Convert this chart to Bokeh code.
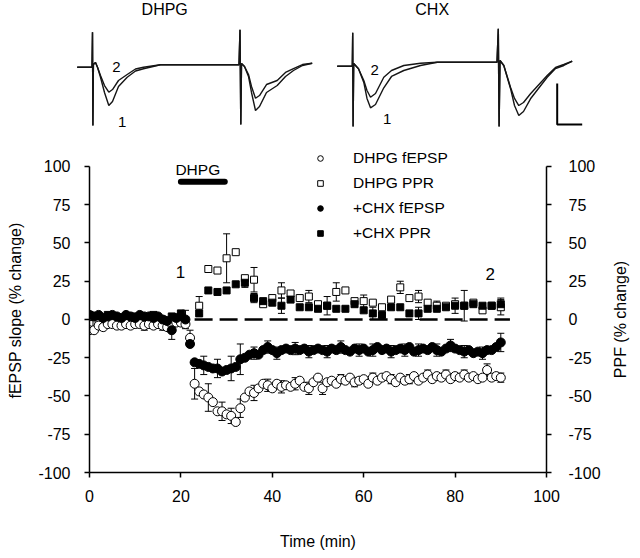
import numpy as np
from bokeh.plotting import figure
from bokeh.models import (Range1d, LinearAxis, Legend, LegendItem, Whisker, Plot,
                          ColumnDataSource, FixedTicker, TeeHead)
from bokeh.layouts import column, row
from bokeh.embed import file_html
from bokeh.resources import INLINE
from bokeh.core.properties import value

FONT = "Liberation Sans"
NAN = float("nan")

# ---------------- main chart data ----------------
time_fepsp = list(range(0, 91))          # min, 1-min sampling
dhpg_fepsp = [
    -7, -7, -4, -5, -3, -3, -4, -4, -3, -4,
    -3, -3, -4, -3, -4, -3, -4, -5, -3, -2,
    -2, -3, -12, -42, -47, -49, -51, -54, -60, -60,
    -62, -63, -67, -58, -51, -47, -48, -45, -42, -43,
    -45, -42, -44, -43, -44, -42, -40, -44, -45, -41,
    -38, -45, -41, -40, -42, -39, -40, -38, -41, -40,
    -39, -42, -38, -40, -38, -37, -39, -41, -38, -40,
    -39, -37, -40, -38, -36, -39, -37, -38, -36, -39,
    -37, -38, -36, -38, -37, -39, -38, -33, -38, -37,
    -38]
dhpg_fepsp_err = [0] * 91
for _t, _e in [(12, 3), (16, 3), (22, 5), (23, 10), (26, 9), (29, 6), (31, 5), (33, 6),
               (36, 5), (39, 4), (42, 4), (45, 4), (48, 4), (51, 4), (55, 3), (58, 3),
               (62, 3), (66, 3), (70, 3), (74, 3), (78, 3), (82, 3), (87, 4), (90, 3)]:
    dhpg_fepsp_err[_t] = _e

chx_fepsp = [
    3, 2, 3, 1, 2, 3, 2, 1, 3, 2,
    1, 3, 2, 2, 1, 2, 0, -1, -7, 1,
    2, 0, -16, -28, -29, -30, -31, -32, -32, -34,
    -33, -32, -31, -26, -25, -23, -22, -23, -20, -18,
    -20, -22, -20, -19, -20, -19, -20, -19, -21, -20,
    -19, -20, -21, -19, -20, -18, -20, -21, -19, -20,
    -19, -21, -20, -18, -20, -19, -21, -20, -19, -20,
    -18, -21, -20, -19, -20, -18, -20, -21, -19, -17,
    -19, -20, -21, -20, -22, -21, -22, -20, -20, -18,
    -15]
chx_fepsp_err = [0] * 91
for _t, _e in [(18, 6), (21, 6), (25, 6), (28, 6), (31, 8), (33, 10), (36, 4), (39, 4),
               (41, 4), (45, 4), (48, 4), (52, 4), (55, 4), (59, 4), (62, 4), (66, 4),
               (69, 4), (72, 4), (76, 4), (79, 4), (82, 4), (86, 4), (90, 6)]:
    chx_fepsp_err[_t] = _e

time_ppr = list(range(0, 91, 2))         # min, 2-min sampling
dhpg_ppr = [
    -3, -2, -1, -3, -2, -3, -2, -3, -2, -1,
    -1, NAN, 9, 33, 32, 40, 44, 27, 26, 10,
    14, 19, 17, 14, 15, 10, 9, 18, 19, 12,
    12, 11, 8, 13, 21, 14, 15, 11, 9, 9,
    10, 9, 11, 6, 9, 8]
dhpg_ppr_err = [0] * 46
for _t, _e in [(24, 6), (30, 16), (36, 8), (42, 5), (48, 4), (54, 6), (60, 4), (68, 4),
               (72, 4), (76, 3), (82, 10), (90, 5)]:
    dhpg_ppr_err[_t // 2] = _e

chx_ppr = [
    3, 2, 3, 1, 2, 2, 1, 3, 0, 2,
    4, NAN, 4, 19, 18, 19, 23, 24, 14, 12,
    11, 9, 13, 8, 8, 7, 9, 7, 7, 10,
    6, 4, 3, 8, 8, 4, 4, 7, 7, 8,
    9, 9, 10, 9, 9, 10]
chx_ppr_err = [0] * 46
for _t, _e in [(34, 3), (36, 3), (42, 5), (52, 6), (62, 4), (72, 4), (80, 5), (90, 4)]:
    chx_ppr_err[_t // 2] = _e

y_ticks = [-100, -75, -50, -25, 0, 25, 50, 75, 100]
x_ticks = [0, 20, 40, 60, 80, 100]
series_labels = ["DHPG fEPSP", "DHPG PPR", "+CHX fEPSP", "+CHX PPR"]
drug_period = [20, 29.6]          # DHPG application (min)
zero_line_x = [23, 92]

# ---------------- inset traces (ms, mV) ----------------
dhpg_trace_t = [0.0, 5.92, 6.12, 6.28, 6.48, 7.32, 8.12, 9.32, 10.92, 12.64, 14.12, 16.52,
                20.0, 23.32, 26.52, 33.32, 64.72, 65.12, 65.44, 65.72, 66.92, 68.52,
                69.72, 71.32, 72.92, 75.72, 80.0, 83.32, 86.52, 90.12, 94.0]
dhpg_trace_1 = [-0.021, -0.021, 0.406, -0.732, 0.012, 0.037, -0.021, -0.143, -0.329, -0.488,
                -0.439, -0.256, -0.143, -0.067, -0.040, 0.009, 0.009, 0.435, -0.720, 0.024,
                -0.012, -0.134, -0.329, -0.549, -0.500, -0.329, -0.244, -0.134, -0.061,
                0.0, 0.028]
dhpg_trace_2 = [-0.021, -0.021, 0.406, -0.732, 0.012, 0.037, -0.021, -0.122, -0.244, -0.326,
                -0.293, -0.183, -0.110, -0.043, -0.021, 0.009, 0.009, 0.435, -0.720, 0.024,
                -0.012, -0.110, -0.256, -0.399, -0.366, -0.232, -0.183, -0.085, -0.037,
                0.012, 0.028]
chx_trace_t = [0.0, 6.04, 6.2, 6.36, 6.6, 8.52, 10.64, 11.92, 13.32, 15.32, 18.64, 21.72,
               26.64, 33.32, 40.0, 63.92, 64.44, 64.76, 65.12, 66.64, 69.32, 70.92, 72.64,
               74.52, 77.32, 84.0, 87.32, 90.64, 94.0]
chx_trace_1 = [-0.009, -0.009, 0.399, -0.744, 0.024, -0.040, -0.207, -0.402, -0.516, -0.476,
               -0.272, -0.134, -0.061, 0.0, 0.040, 0.040, 0.448, -0.744, 0.061, 0.0,
               -0.280, -0.488, -0.610, -0.561, -0.406, -0.143, -0.037, 0.0, 0.052]
chx_trace_2 = [-0.009, -0.009, 0.399, -0.744, 0.024, -0.040, -0.183, -0.305, -0.387, -0.341,
               -0.143, -0.061, 0.0, 0.028, 0.040, 0.040, 0.448, -0.744, 0.061, 0.0,
               -0.265, -0.402, -0.488, -0.451, -0.345, -0.122, -0.024, 0.012, 0.052]
scale_ms = 10
scale_mv = 0.5

# ---------------- layout constants ----------------
W = 638
INSET_H = 148
MAIN_H = 408
MAIN_W = 604
LAB_W = W - MAIN_W                  # strip holding the right-hand axis title
PX_PER_MS = 2.5
PX_PER_MV = 82.0
BASE_Y = 65.0                      # baseline position from inset top (px)
DHPG_X0 = 76.7 / PX_PER_MS         # panel origins (ms)
CHX_X0 = 336.7 / PX_PER_MS
HAS_FRAME_ALIGN = "frame_align" in Plot.properties()


def no_align(fig):
    if HAS_FRAME_ALIGN:
        fig.frame_align = False


# ---------------- inset figure ----------------
ins = figure(width=W, height=INSET_H, output_backend="svg", toolbar_location=None,
             x_range=Range1d(0, W / PX_PER_MS),
             y_range=Range1d(-(INSET_H - BASE_Y) / PX_PER_MV, BASE_Y / PX_PER_MV),
             x_axis_location=None, y_axis_location=None,
             min_border_left=0, min_border_right=0, min_border_top=0, min_border_bottom=0)
ins.outline_line_color = None
ins.grid.visible = False
no_align(ins)
TRACE_COL = "#151515"
for x0, tt, v1, v2 in [(DHPG_X0, dhpg_trace_t, dhpg_trace_1, dhpg_trace_2),
                       (CHX_X0, chx_trace_t, chx_trace_1, chx_trace_2)]:
    xs = [x0 + t for t in tt]
    ins.line(xs, v1, line_color=TRACE_COL, line_width=1.4)
    ins.line(xs, v2, line_color=TRACE_COL, line_width=1.4)

sb_x = CHX_X0 + 88
sb_y = -0.72
ins.line([sb_x, sb_x, sb_x + scale_ms], [sb_y + scale_mv, sb_y, sb_y],
         line_color="black", line_width=2)

title_y = (BASE_Y - 8.5) / PX_PER_MV
ins.text(x=[DHPG_X0 + 35, CHX_X0 + 38], y=[title_y, title_y], text=["DHPG", "CHX"],
         text_font=value(FONT), text_font_size="16px", text_align="center",
         text_baseline="middle", text_color="black")
ins.text(x=[DHPG_X0 + 15.7, DHPG_X0 + 18, CHX_X0 + 15.0, CHX_X0 + 20],
         y=[-0.02, -0.69, -0.06, -0.65], text=["2", "1", "2", "1"],
         text_font=value(FONT), text_font_size="15px", text_align="center",
         text_baseline="middle", text_color="black")

# ---------------- main figure ----------------
FRAME_BOTTOM = 472 - INSET_H
p = figure(width=MAIN_W, height=MAIN_H, output_backend="svg", toolbar_location=None,
           x_range=Range1d(0, 100), y_range=Range1d(-100, 111.76),
           min_border_left=89, min_border_right=MAIN_W - 546, min_border_top=0,
           min_border_bottom=MAIN_H - FRAME_BOTTOM)
p.outline_line_color = None
p.grid.visible = False
no_align(p)

rax = LinearAxis()
p.add_layout(rax, "right")

for ax in [p.xaxis[0], p.yaxis[0], rax]:
    ax.axis_line_width = 1.5
    ax.axis_line_color = "black"
    ax.major_tick_line_width = 1.5
    ax.major_tick_line_color = "black"
    ax.major_tick_out = 5
    ax.major_tick_in = 0
    ax.minor_tick_out = 0
    ax.minor_tick_in = 0
    ax.major_label_text_font = FONT
    ax.major_label_text_font_size = "16px"
    ax.major_label_text_color = "black"
    ax.axis_label_text_font = FONT
    ax.axis_label_text_font_size = "16px"
    ax.axis_label_text_font_style = "normal"
    ax.axis_label_text_color = "black"

p.xaxis[0].ticker = FixedTicker(ticks=x_ticks)
p.xaxis[0].axis_label = "Time (min)"
p.xaxis[0].major_label_standoff = 12
p.xaxis[0].axis_label_standoff = 28

for ax in [p.yaxis[0], rax]:
    ax.ticker = FixedTicker(ticks=y_ticks)
    ax.bounds = (-100, 100)
    ax.major_label_overrides = {t: str(t) for t in y_ticks}
p.yaxis[0].axis_label = "fEPSP slope (% change)"
p.yaxis[0].major_label_standoff = 14
p.yaxis[0].axis_label_standoff = 11
rax.major_label_standoff = 17

# zero reference line and drug bar
p.line(zero_line_x, [0, 0], line_color="black", line_width=2.5, line_dash="18 7")
p.line(drug_period, [90, 90], line_color="black", line_width=6, line_cap="round")
p.text(x=[18.8], y=[98], text=["DHPG"], text_font=value(FONT), text_font_size="15.5px",
       text_align="left", text_baseline="middle", text_color="black")
p.text(x=[19.9, 87.7], y=[31, 30], text=["1", "2"], text_font=value(FONT),
       text_font_size="17px", text_align="center", text_baseline="middle",
       text_color="black")


def add_err(t, v, e):
    xs, lo, hi = [], [], []
    for ti, vi, ei in zip(t, v, e):
        if ei and vi == vi:
            xs.append(ti)
            lo.append(vi - ei)
            hi.append(vi + ei)
    src = ColumnDataSource(dict(x=xs, lower=lo, upper=hi))
    w = Whisker(base="x", lower="lower", upper="upper", source=src, dimension="height",
                line_color="black", line_width=1,
                upper_head=TeeHead(size=7, line_width=1, line_color="black"),
                lower_head=TeeHead(size=7, line_width=1, line_color="black"))
    p.add_layout(w)


add_err(time_ppr, dhpg_ppr, dhpg_ppr_err)
add_err(time_ppr, chx_ppr, chx_ppr_err)
add_err(time_fepsp, dhpg_fepsp, dhpg_fepsp_err)
add_err(time_fepsp, chx_fepsp, chx_fepsp_err)

r_dppr = p.scatter(np.array(time_ppr, float), np.array(dhpg_ppr, float), marker="square",
                   size=7, fill_color="white", line_color="black", line_width=1)
r_cppr = p.scatter(np.array(time_ppr, float), np.array(chx_ppr, float), marker="square",
                   size=7, fill_color="black", line_color="black", line_width=1)
r_dfe = p.scatter(np.array(time_fepsp, float), np.array(dhpg_fepsp, float), marker="circle",
                  size=9, fill_color="white", line_color="black", line_width=1)
r_cfe = p.scatter(np.array(time_fepsp, float), np.array(chx_fepsp, float), marker="circle",
                  size=9, fill_color="black", line_color="black", line_width=1)

legend = Legend(items=[LegendItem(label=series_labels[0], renderers=[r_dfe]),
                       LegendItem(label=series_labels[1], renderers=[r_dppr]),
                       LegendItem(label=series_labels[2], renderers=[r_cfe]),
                       LegendItem(label=series_labels[3], renderers=[r_cppr])],
                location=(224, 229), orientation="vertical",
                glyph_width=14, glyph_height=20, label_height=20, label_standoff=26,
                spacing=5, padding=0, margin=0, border_line_color=None,
                background_fill_alpha=0, label_text_font=FONT,
                label_text_font_size="15.5px", label_text_color="black")
p.add_layout(legend)

# ---------------- right-hand axis title strip ----------------
lab = figure(width=LAB_W, height=MAIN_H, output_backend="svg", toolbar_location=None,
             x_range=Range1d(0, LAB_W), y_range=Range1d(0, MAIN_H),
             x_axis_location=None, y_axis_location=None,
             min_border_left=0, min_border_right=0, min_border_top=0, min_border_bottom=0)
lab.outline_line_color = None
lab.grid.visible = False
no_align(lab)
lab.text(x=[620 - MAIN_W], y=[MAIN_H - (319 - INSET_H)], text=["PPF (% change)"],
         angle=90, angle_units="deg", text_font=value(FONT), text_font_size="16px",
         text_align="center", text_baseline="middle", text_color="black")

layout = column(ins, row(p, lab))
open("out.html", "w").write(file_html(layout, INLINE))
